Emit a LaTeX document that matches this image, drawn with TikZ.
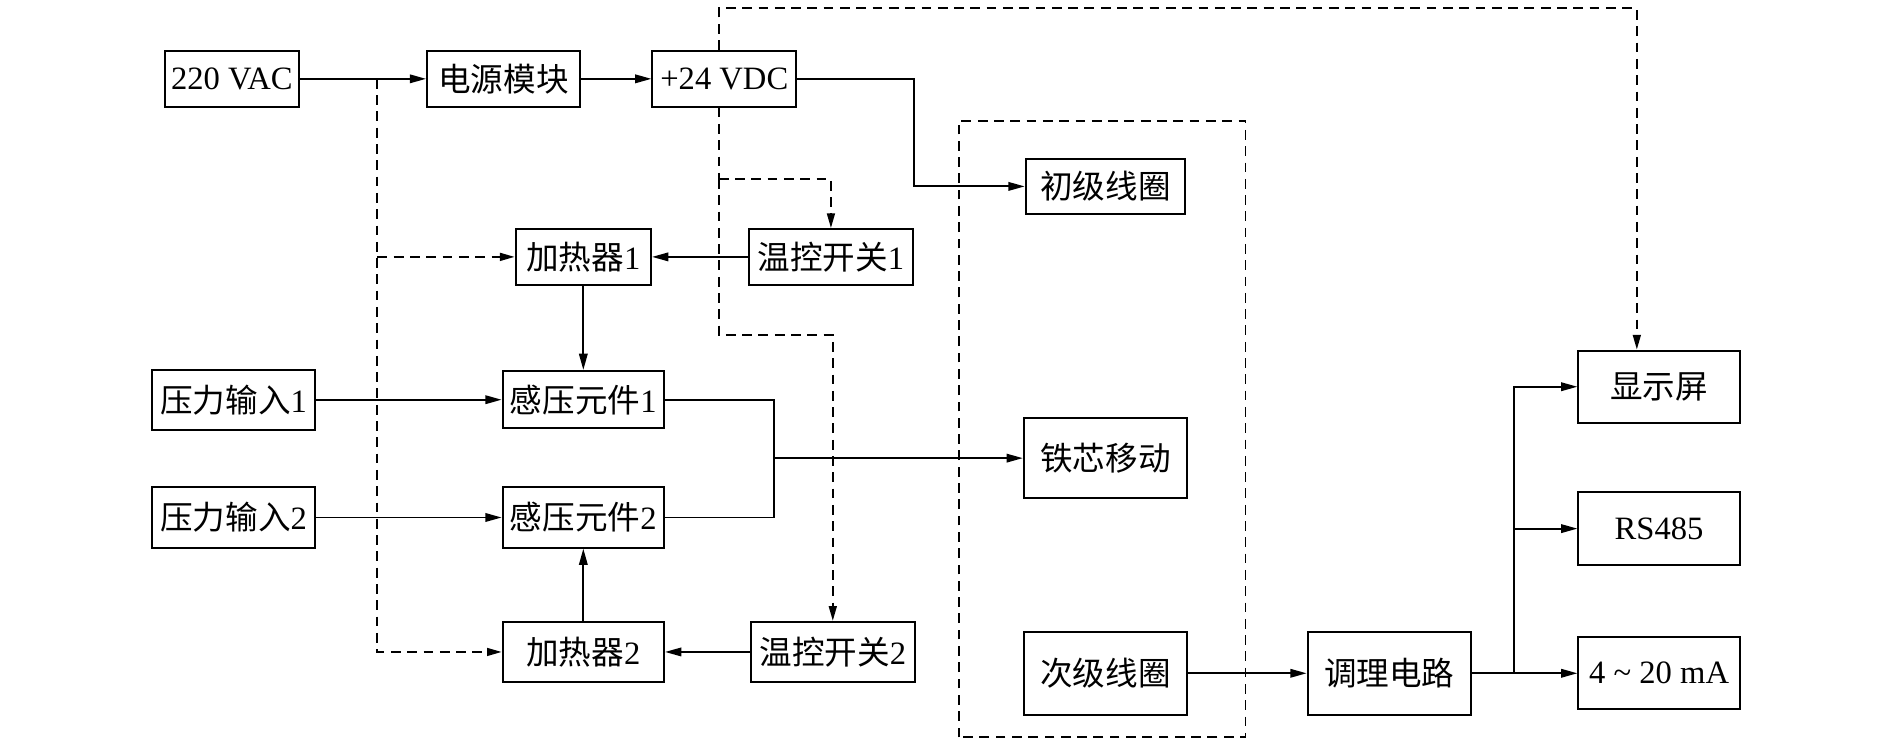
\documentclass[tikz,border=0pt]{standalone}
\usepackage{fontspec}
\setmainfont{Liberation Serif}
\newfontfamily\cjk{Noto Sans CJK SC}
\usetikzlibrary{arrows.meta}

\begin{document}
\begin{tikzpicture}[
  box/.style={draw,line width=0.6pt,inner sep=1pt,minimum width=1.74cm,minimum height=0.6cm},
  sig/.style={line width=0.6pt,-{Triangle[length=5pt,width=2.6pt]}},
  net/.style={line width=0.6pt},
  aux/.style={line width=0.6pt,dash pattern=on 3pt off 2pt},
  auxto/.style={aux,-{Triangle[length=4.5pt,width=2.4pt]}}]
\useasboundingbox (0,0) rectangle (20.38,8.07);
\node[box,minimum width=1.44cm] (vac) at (2.50,7.22) {220 VAC};
\node[box,minimum width=1.65cm] (psu) at (5.43,7.22) {{\cjk 电源模块}};
\node[box,minimum width=1.55cm] (dc) at (7.81,7.22) {+24 VDC};
\node[box,minimum width=1.46cm] (heatA) at (6.29,5.30) {{\cjk 加热器}1};
\node[box,minimum width=1.77cm] (swA) at (8.96,5.30) {{\cjk 温控开关}1};
\node[box,minimum width=1.76cm,minimum height=0.65cm] (inA) at (2.52,3.76) {{\cjk 压力输入}1};
\node[box,minimum height=0.62cm] (senA) at (6.29,3.76) {{\cjk 感压元件}1};
\node[box,minimum width=1.76cm,minimum height=0.65cm] (inB) at (2.52,2.49) {{\cjk 压力输入}2};
\node[box,minimum height=0.65cm] (senB) at (6.29,2.49) {{\cjk 感压元件}2};
\node[box,minimum height=0.65cm] (heatB) at (6.29,1.04) {{\cjk 加热器}2};
\node[box,minimum width=1.77cm,minimum height=0.65cm] (swB) at (8.98,1.04) {{\cjk 温控开关}2};
\node[box,minimum width=1.72cm] (coilP) at (11.92,6.06) {{\cjk 初级线圈}};
\node[box,minimum width=1.76cm,minimum height=0.87cm] (core) at (11.92,3.13) {{\cjk 铁芯移动}};
\node[box,minimum width=1.76cm,minimum height=0.9cm] (coilS) at (11.92,0.81) {{\cjk 次级线圈}};
\node[box,minimum width=1.76cm,minimum height=0.9cm] (cond) at (14.98,0.81) {{\cjk 调理电路}};
\node[box,minimum height=0.78cm] (disp) at (17.89,3.90) {{\cjk 显示屏}};
\node[box,minimum height=0.78cm] (rs) at (17.89,2.37) {RS485};
\node[box,minimum height=0.78cm] (ma) at (17.89,0.81) {4 \textasciitilde{} 20 mA};
\draw[aux] (10.34,0.12) rectangle (13.43,6.77);
\coordinate (j1) at (4.07,7.22);
\coordinate (top) at (17.65,7.98);
\coordinate (t1) at (7.75,6.14);
\coordinate (t2) at (7.75,4.46);
\coordinate (m) at (8.35,3.13);
\coordinate (k) at (16.33,0.81);
\draw[sig] (vac) -- (psu);
\draw[sig] (psu) -- (dc);
\draw[sig] (dc.east) -- ++(1.26,0) |- (coilP);
\draw[auxto] (dc.north -| t1) |- (top) -- (top |- disp.north);
\draw[aux] (dc.south -| t1) -- (t1);
\draw[auxto] (t1) -- (t2) -| (swB.north);
\draw[auxto] (t1) -| (swA.north);
\draw[auxto] (j1) |- (heatB);
\draw[auxto] (j1 |- heatA) -- (heatA);
\draw[sig] (swA) -- (heatA);
\draw[sig] (heatA) -- (senA);
\draw[sig] (inA) -- (senA);
\draw[sig] (inB) -- (senB);
\draw[net] (senA.east) -| (m) |- (senB.east);
\draw[sig] (m) -- (core);
\draw[sig] (heatB) -- (senB);
\draw[sig] (swB) -- (heatB);
\draw[sig] (coilS) -- (cond);
\draw[net] (cond) -- (k);
\draw[sig] (k) -- (ma);
\draw[sig] (k) |- (disp);
\draw[sig] (k |- rs) -- (rs);
\end{tikzpicture}
\end{document}
